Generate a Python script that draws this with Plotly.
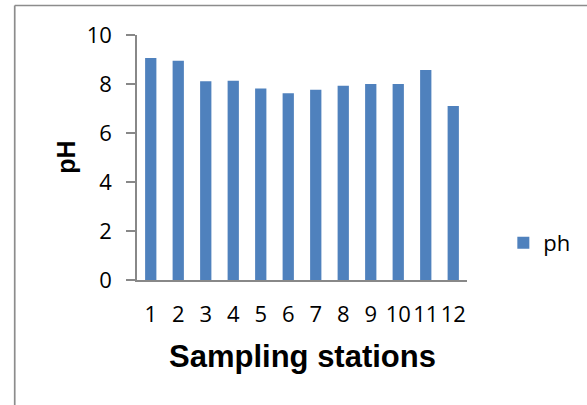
import plotly.graph_objects as go

# pH measured at each sampling station
stations = ["1", "2", "3", "4", "5", "6", "7", "8", "9", "10", "11", "12"]
ph_values = [9.06, 8.95, 8.11, 8.13, 7.82, 7.62, 7.77, 7.93, 8.0, 8.0, 8.57, 7.10]
y_ticks = [0, 2, 4, 6, 8, 10]

W, H = 587, 405
M_L, M_R, M_T, M_B = 137, 114, 35, 125
PW = W - M_L - M_R
PH = H - M_T - M_B


def px_x(x):
    return (x - M_L) / PW


def px_y(y):
    return (H - M_B - y) / PH


AXIS_GREY = "#888888"
TICK_FONT = dict(family="Open Sans", size=22, color="#000000")

fig = go.Figure()
fig.add_trace(go.Bar(
    x=stations,
    y=ph_values,
    name="ph",
    marker=dict(color="#4F81BD", line=dict(width=0)),
))

fig.update_layout(
    width=W,
    height=H,
    margin=dict(l=M_L, r=M_R, t=M_T, b=M_B),
    paper_bgcolor="white",
    plot_bgcolor="white",
    bargap=0.59,
    showlegend=True,
    legend=dict(
        x=px_x(510), xanchor="left",
        y=px_y(243), yanchor="middle",
        font=dict(family="Open Sans", size=22, color="#000000"),
        bgcolor="rgba(0,0,0,0)",
    ),
    xaxis=dict(
        type="category",
        showline=True, linecolor=AXIS_GREY, linewidth=1.5,
        showgrid=False, zeroline=False,
        ticks="", tickangle=0,
        ticklabelstandoff=14,
        tickfont=TICK_FONT,
    ),
    yaxis=dict(
        range=[0, 10],
        tickvals=y_ticks,
        showline=True, linecolor=AXIS_GREY, linewidth=1.5,
        showgrid=False, zeroline=False,
        ticks="outside", ticklen=9, tickwidth=1.5, tickcolor=AXIS_GREY,
        ticklabelstandoff=10,
        tickfont=TICK_FONT,
    ),
    annotations=[
        dict(
            text="<b>Sampling stations</b>",
            xref="paper", yref="paper",
            x=0.5, y=px_y(356), xanchor="center", yanchor="middle",
            showarrow=False,
            font=dict(family="Liberation Sans", size=31, color="#000000"),
        ),
        dict(
            text="<b>pH</b>",
            xref="paper", yref="paper",
            x=px_x(64), y=px_y(157.5), xanchor="center", yanchor="middle",
            textangle=-90,
            showarrow=False,
            font=dict(family="Liberation Sans", size=25, color="#000000"),
        ),
    ],
    shapes=[
        # chart-area frame: left and top edges
        dict(type="line", xref="paper", yref="paper",
             x0=px_x(12.5), x1=px_x(12.5), y0=px_y(5.5), y1=px_y(420),
             line=dict(color="#8c8c8c", width=1.7)),
        dict(type="line", xref="paper", yref="paper",
             x0=px_x(12.5), x1=px_x(600), y0=px_y(5.5), y1=px_y(5.5),
             line=dict(color="#8c8c8c", width=1.7)),
    ],
)

fig.write_html("out.html")
